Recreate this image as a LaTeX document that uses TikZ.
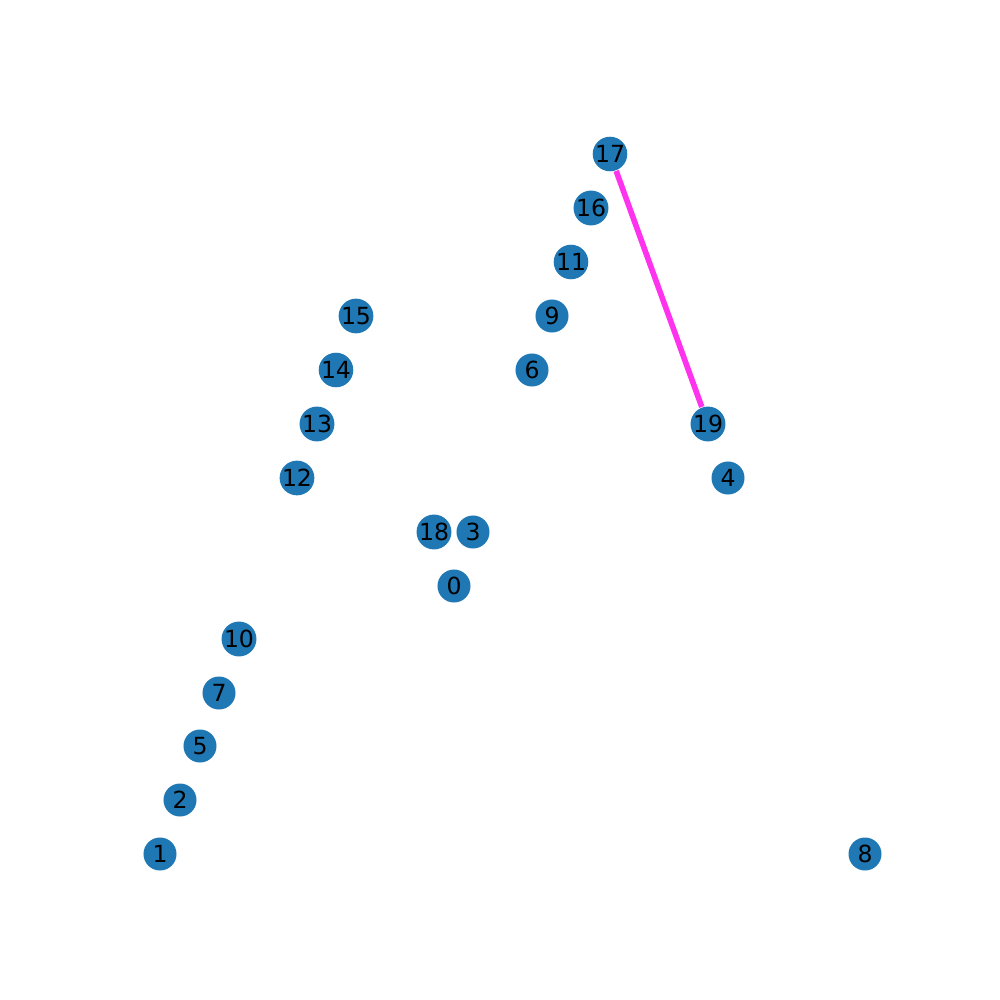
\documentclass[tikz,border=0pt]{standalone}
\usepackage{fontspec}
\setmainfont{DejaVu Sans}
\usepackage{xcolor}
\usepackage{tikz}
\definecolor{nodeblue}{HTML}{1F77B4}
\definecolor{edgepink}{HTML}{FF33EE}
\begin{document}
\begin{tikzpicture}[x=0.01cm,y=-0.01cm,
vertex/.style={circle,fill=nodeblue,draw=none,minimum size=0.33cm,inner sep=0pt,font=\fontsize{6.7}{8}\selectfont},
edge/.style={draw=edgepink,line width=1.6pt}]
\useasboundingbox(0,0)rectangle(1000,1000);
\path(610,154)coordinate(c17)
(591,208)coordinate(c16)
(571,262)coordinate(c11)
(552,316)coordinate(c9)
(532,370)coordinate(c6)
(356,316)coordinate(c15)
(336,370)coordinate(c14)
(317,424)coordinate(c13)
(297,478)coordinate(c12)
(708,424)coordinate(c19)
(728,478)coordinate(c4)
(434,532)coordinate(c18)
(473,532)coordinate(c3)
(454,586)coordinate(c0)
(239,639)coordinate(c10)
(219,693)coordinate(c7)
(200,746)coordinate(c5)
(180,800)coordinate(c2)
(160,854)coordinate(c1)
(865,854)coordinate(c8);
\foreach \n in {17,16,11,9,6,15,14,13,12,19,4,18,3,0,10,7,5,2,1,8}
\node[vertex](n\n)at(c\n){\n};
\draw[edge](n17)--(n19);
\end{tikzpicture}
\end{document}
